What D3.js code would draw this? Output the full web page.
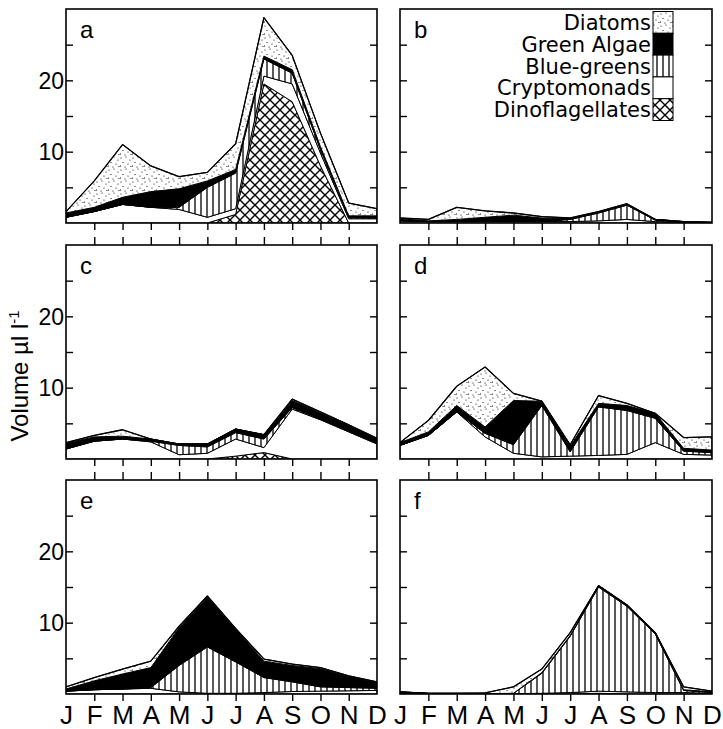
<!DOCTYPE html>
<html><head><meta charset="utf-8">
<script src="https://cdn.jsdelivr.net/npm/d3@7/dist/d3.min.js"></script>
<style>body{margin:0;background:#fff;} svg{display:block;}</style>
</head><body>
<svg id="chart" width="723" height="729"></svg>
<script>
// ---------- data ----------
const months = ["J","F","M","A","M","J","J","A","S","O","N","D"];
const seriesKeys = ["Dinoflagellates","Cryptomonads","Blue-greens","Green Algae","Diatoms"]; // bottom -> top
const legendKeys = ["Diatoms","Green Algae","Blue-greens","Cryptomonads","Dinoflagellates"];
const yTickValues = [5,10,15,20,25];
const yLabelValues = [10,20];
const panelLetters = ["a","b","c","d","e","f"];
const yTitle = "Volume µl l";

// panel a
const aDino   = [0,0,0,0,0,0,1.2,19.5,17,8,0,0];
const aCrypto = [0.8,1.6,2.6,2.2,1.9,0.8,0.8,1.1,2.5,1.8,0.6,0.6];
const aBlue   = [0,0,0,0,0.3,4.2,5.0,2.4,1.5,0.5,0.2,0.1];
const aGreen  = [0.6,0.6,1.0,2.2,2.6,0.9,0.5,0.4,0.5,0.4,0.2,0.3];
const aDiatom = [0.2,3.7,7.4,3.6,1.7,1.2,3.6,5.4,2.0,1.9,1.8,1.0];
// panel b
const bDino   = [0,0,0,0,0,0,0,0,0,0,0,0];
const bCrypto = [0.3,0.2,0.2,0.2,0.2,0.2,0.2,0.3,0.5,0.2,0.1,0.05];
const bBlue   = [0,0,0,0,0,0,0.3,1.1,2.0,0.2,0,0];
const bGreen  = [0.3,0.1,0.3,0.6,0.9,0.5,0.1,0.1,0.1,0.1,0.1,0.05];
const bDiatom = [0.1,0.2,1.7,0.9,0.3,0.2,0.1,0.1,0.1,0,0,0];
// panel c
const cDino   = [0,0,0,0,0,0,0.4,0.9,0,0,0,0];
const cCrypto = [1.4,2.5,2.8,2.4,0.6,0.8,2.4,0.7,7.0,5.5,3.8,2.1];
const cBlue   = [0,0,0,0.1,1.3,0.9,0.9,1.2,0.2,0.1,0.1,0.1];
const cGreen  = [0.8,0.6,0.4,0.3,0.2,0.4,0.5,0.6,1.0,0.9,0.8,0.6];
const cDiatom = [0.1,0.2,0.9,0,0,0,0,0,0.2,0.1,0.1,0.1];
// panel d
const dDino   = [0,0,0,0,0,0,0,0,0,0,0,0];
const dCrypto = [1.9,3.3,6.6,3.1,0.8,0.3,0.4,0.5,0.65,2.3,0.65,0.55];
const dBlue   = [0,0,0,0.5,1.2,7.2,0.6,6.8,6.15,3.4,0.45,0.35];
const dGreen  = [0.4,0.5,0.9,0.9,6.2,0.6,0.8,0.5,0.7,0.7,0.4,0.35];
const dDiatom = [0,1.6,2.7,8.4,1.0,0,0.2,1.1,0.3,0,1.5,1.85];
// panel e
const eDino   = [0,0,0,0,0,0,0,0,0,0,0,0];
const eCrypto = [0.4,0.6,0.7,0.8,0.3,0.1,0.1,0.2,0.35,0.4,0.45,0.5];
const eBlue   = [0,0,0,0.1,3.7,6.5,4.4,2.1,1.35,0.6,0.45,0.3];
const eGreen  = [0.3,1.25,2.1,2.8,5.3,7.05,4.6,2.3,2.3,2.55,1.55,0.8];
const eDiatom = [0.3,0.45,0.7,0.9,0.2,0.1,0.1,0.3,0.2,0.15,0.1,0.1];
// panel f
const fDino   = [0,0,0,0,0,0,0,0.1,0,0,0,0];
const fCrypto = [0.1,0.05,0.05,0.05,0.05,0.1,0.2,0.3,0.3,0.2,0.2,0.1];
const fBlue   = [0,0,0,0,0.05,2.8,7.9,14.6,12.0,8.2,0.3,0.1];
const fGreen  = [0.2,0.05,0.05,0,0,0.1,0.1,0.2,0.2,0.2,0.1,0.1];
const fDiatom = [0,0,0,0.1,0.9,0.5,0.4,0,0,0,0.4,0.1];

const panelSeries = [
  [aDino,aCrypto,aBlue,aGreen,aDiatom],
  [bDino,bCrypto,bBlue,bGreen,bDiatom],
  [cDino,cCrypto,cBlue,cGreen,cDiatom],
  [dDino,dCrypto,dBlue,dGreen,dDiatom],
  [eDino,eCrypto,eBlue,eGreen,eDiatom],
  [fDino,fCrypto,fBlue,fGreen,fDiatom]
];

// ---------- layout ----------
const cols = [{x0:66,x1:377},{x0:400,x1:712}];
const rows = [{y0:9,y1:223},{y0:245,y1:459},{y0:480,y1:694}];
const FONT = "'Liberation Sans', Arial, Helvetica, sans-serif";

const svg = d3.select("#chart");
svg.append("rect").attr("width",723).attr("height",729).attr("fill","#fff");
const defs = svg.append("defs");

// dots pattern
const pDots = defs.append("pattern").attr("id","dots").attr("patternUnits","userSpaceOnUse")
  .attr("width",12).attr("height",12);
pDots.append("rect").attr("width",12).attr("height",12).attr("fill","#fff");
[[1,2],[6,1],[10,4],[3,6.5],[8,8],[0.5,10],[5,11],[11,10.5]].forEach(p=>{
  pDots.append("circle").attr("cx",p[0]).attr("cy",p[1]).attr("r",0.6).attr("fill","#000");
});
// vertical lines pattern
const pV = defs.append("pattern").attr("id","vlines").attr("patternUnits","userSpaceOnUse")
  .attr("width",6).attr("height",6);
pV.append("rect").attr("width",6).attr("height",6).attr("fill","#fff");
pV.append("line").attr("x1",3).attr("x2",3).attr("y1",0).attr("y2",6).attr("stroke","#000").attr("stroke-width",1.3);
// crosshatch pattern
const pX = defs.append("pattern").attr("id","xhatch").attr("patternUnits","userSpaceOnUse")
  .attr("width",10).attr("height",10);
pX.append("rect").attr("width",10).attr("height",10).attr("fill","#fff");
pX.append("path").attr("d","M-1,-1L11,11M11,-1L-1,11").attr("stroke","#000").attr("stroke-width",1.4);

const fills = {"Diatoms":"url(#dots)","Green Algae":"#000","Blue-greens":"url(#vlines)","Cryptomonads":"#fff","Dinoflagellates":"url(#xhatch)"};

panelSeries.forEach((series,pi)=>{
  const r = Math.floor(pi/2), c = pi%2;
  const {x0,x1} = cols[c], {y0,y1} = rows[r];
  const x = d3.scaleLinear().domain([0,11]).range([x0,x1]);
  const y = d3.scaleLinear().domain([0,30]).range([y1,y0]);
  const table = months.map((m,i)=>{
    const o = {i};
    seriesKeys.forEach((k,ki)=>{ o[k] = series[ki][i]; });
    return o;
  });
  const stacked = d3.stack().keys(seriesKeys)(table);
  const g = svg.append("g");
  const clipId = "clip"+pi;
  defs.append("clipPath").attr("id",clipId).append("rect")
    .attr("x",x0).attr("y",y0).attr("width",x1-x0).attr("height",y1-y0);
  const area = d3.area().x(d=>x(d.data.i)).y0(d=>y(d[0])).y1(d=>y(d[1]));
  const pg = g.append("g").attr("clip-path",`url(#${clipId})`);
  pg.selectAll("path.layer").data(stacked).join("path").attr("class","layer")
    .attr("d",area).attr("fill",d=>fills[d.key])
    .attr("stroke","#000").attr("stroke-width",1).attr("stroke-linejoin","round");
  const top = d3.line().x(d=>x(d.data.i)).y(d=>y(d[1]));
  pg.append("path").attr("d",top(stacked[stacked.length-1])).attr("fill","none")
    .attr("stroke","#000").attr("stroke-width",1.3).attr("stroke-linejoin","round");

  // axes (ticks)
  const styleAxis = sel => { sel.select(".domain").remove(); sel.selectAll("line").attr("stroke","#000").attr("stroke-width",1.4); };
  g.append("g").attr("transform",`translate(${x0},0)`)
    .call(d3.axisLeft(y).tickValues(yTickValues).tickSizeInner(-7).tickSizeOuter(0).tickFormat(""))
    .call(styleAxis);
  g.append("g").attr("transform",`translate(${x1},0)`)
    .call(d3.axisRight(y).tickValues(yTickValues).tickSizeInner(-7).tickSizeOuter(0).tickFormat(""))
    .call(styleAxis);
  g.append("g").attr("transform",`translate(0,${y1})`)
    .call(d3.axisBottom(x).tickValues(d3.range(1,11)).tickSizeInner(7).tickSizeOuter(0).tickFormat(""))
    .call(styleAxis);
  if (r>0) {
    g.append("g").attr("transform",`translate(0,${y0})`)
      .call(d3.axisTop(x).tickValues(d3.range(1,11)).tickSizeInner(8).tickSizeOuter(0).tickFormat(""))
      .call(styleAxis);
  }
  // frame
  g.append("rect").attr("x",x0).attr("y",y0).attr("width",x1-x0).attr("height",y1-y0)
    .attr("fill","none").attr("stroke","#000").attr("stroke-width",1.6);
  // y labels
  if (c===0) {
    const ya = g.append("g").attr("transform",`translate(${x0},0)`)
      .call(d3.axisLeft(y).tickValues(yLabelValues).tickSize(0).tickPadding(2));
    ya.select(".domain").remove();
    ya.selectAll("text").attr("font-family",FONT).attr("font-size",23).attr("fill","#000").attr("dy","0.36em");
  }
  // month labels
  if (r===2) {
    const xa = g.append("g").attr("transform",`translate(0,${y1})`)
      .call(d3.axisBottom(x).tickValues(d3.range(12)).tickFormat(i=>months[i]).tickSize(0));
    xa.select(".domain").remove();
    xa.selectAll("text").attr("font-family",FONT).attr("font-size",26).attr("fill","#000")
      .attr("y",30).attr("dy",null);
  }
  // panel letter
  g.append("text").attr("x",x0+14).attr("y",y0+29).text(panelLetters[pi])
    .attr("font-family",FONT).attr("font-size",24).attr("fill","#000");

  // legend in panel b
  if (pi===1) {
    const lg = g.append("g");
    legendKeys.forEach((k,i)=>{
      const by = 30 + i*21.8;
      lg.append("text").attr("x",651).attr("y",by).attr("text-anchor","end").text(k)
        .attr("font-family","'DejaVu Sans', sans-serif").attr("font-size",21).attr("fill","#000");
      lg.append("rect").attr("x",653).attr("y",by-18.5).attr("width",20).attr("height",21.8)
        .attr("fill",fills[k]).attr("stroke","#000").attr("stroke-width",1);
    });
  }
});

// y axis title
const yt = svg.append("text").attr("transform","translate(28,376) rotate(-90)")
  .attr("text-anchor","middle").attr("font-family",FONT).attr("font-size",24).attr("fill","#000");
yt.append("tspan").text(yTitle);
yt.append("tspan").attr("dy",-9).attr("font-size",15).text("-1");
</script>
</body></html>
